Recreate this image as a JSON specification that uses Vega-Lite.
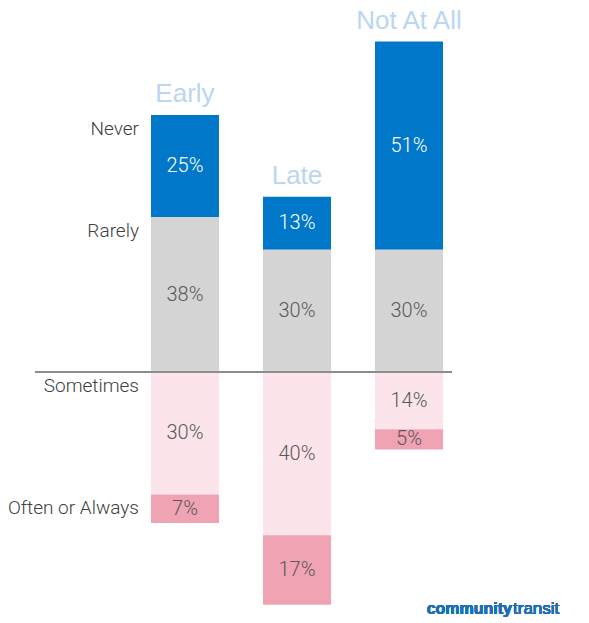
{
  "$schema": "https://vega.github.io/schema/vega-lite/v6.json",
  "width": 417,
  "height": 623,
  "autosize": "none",
  "padding": {"left": 35, "top": 0, "right": 137, "bottom": 0},
  "background": "white",
  "config": {"view": {"stroke": null}},
  "data": {
    "values": [
      {"timing": "Early", "response": "Never", "value": 25},
      {"timing": "Early", "response": "Rarely", "value": 38},
      {"timing": "Early", "response": "Sometimes", "value": -30},
      {"timing": "Early", "response": "Often or Always", "value": -7},
      {"timing": "Late", "response": "Never", "value": 13},
      {"timing": "Late", "response": "Rarely", "value": 30},
      {"timing": "Late", "response": "Sometimes", "value": -40},
      {"timing": "Late", "response": "Often or Always", "value": -17},
      {"timing": "Not At All", "response": "Never", "value": 51},
      {"timing": "Not At All", "response": "Rarely", "value": 30},
      {"timing": "Not At All", "response": "Sometimes", "value": -14},
      {"timing": "Not At All", "response": "Often or Always", "value": -5}
    ]
  },
  "transform": [
    {"stack": "value", "groupby": ["timing"], "sort": [{"field": "response", "order": "descending"}], "as": ["y0", "y1"]},
    {"calculate": "(datum.y0 + datum.y1) / 2", "as": "mid"},
    {"calculate": "max(datum.y0, datum.y1)", "as": "top"},
    {"calculate": "abs(datum.value) + '%'", "as": "lab"}
  ],
  "encoding": {
    "x": {
      "field": "timing", "type": "nominal", "sort": ["Early", "Late", "Not At All"], "axis": null,
      "scale": {"paddingInner": 0.393, "paddingOuter": 0.558, "align": 0.928}
    }
  },
  "layer": [
    {
      "mark": {"type": "bar"},
      "encoding": {
        "y": {"field": "y0", "type": "quantitative", "axis": null, "scale": {"domain": [-61.5, 91.2], "nice": false, "zero": false}},
        "y2": {"field": "y1"},
        "color": {
          "field": "response", "type": "nominal", "legend": null,
          "scale": {"domain": ["Never", "Rarely", "Sometimes", "Often or Always"], "range": ["#0077C8", "#D4D4D4", "#FBE4EA", "#F0A3B2"]}
        }
      }
    },
    {
      "mark": {"type": "text", "font": "Roboto", "fontWeight": 300, "fontSize": 20, "baseline": "middle", "align": "center"},
      "encoding": {
        "y": {"field": "mid", "type": "quantitative"},
        "text": {"field": "lab"},
        "color": {"condition": {"test": "datum.response === 'Never'", "value": "#ffffff"}, "value": "#595959"}
      }
    },
    {
      "transform": [{"filter": "datum.response === 'Never'"}],
      "mark": {"type": "text", "font": "Liberation Sans", "fontSize": 26, "baseline": "middle", "align": "center", "dy": -21, "color": "#BAD6F0"},
      "encoding": {
        "y": {"field": "y1", "type": "quantitative"},
        "text": {"field": "timing"}
      }
    },
    {
      "transform": [{"filter": "datum.timing === 'Early'"}],
      "mark": {"type": "text", "font": "Roboto", "fontWeight": 300, "fontSize": 19, "baseline": "top", "align": "right", "dx": -12, "dy": 5, "color": "#404040"},
      "encoding": {
        "x": {"field": "timing", "type": "nominal", "bandPosition": 0},
        "y": {"field": "top", "type": "quantitative"},
        "text": {"field": "response"}
      }
    },
    {
      "mark": {"type": "rule", "color": "#8C8C8C", "strokeWidth": 1.2},
      "encoding": {"y": {"datum": 0, "type": "quantitative"}, "x": {"value": 0}, "x2": {"value": 417}}
    },
    {
      "mark": {"type": "text", "font": "Liberation Sans", "fontWeight": "bold", "fontSize": 16, "align": "right", "baseline": "middle", "dx": 103, "color": "#1F6FB4"},
      "encoding": {"x": {"datum": "Not At All"}, "y": {"datum": -58}, "text": {"value": "community"}}
    },
    {
      "mark": {"type": "text", "font": "Liberation Sans", "fontSize": 17, "align": "left", "baseline": "middle", "dx": 104, "color": "#1F6FB4"},
      "encoding": {"x": {"datum": "Not At All"}, "y": {"datum": -58}, "text": {"value": "transit"}}
    }
  ]
}
